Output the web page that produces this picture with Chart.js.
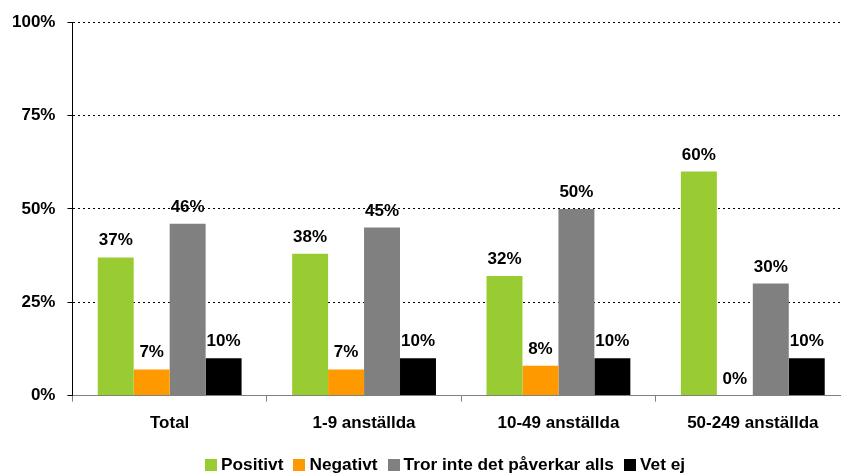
<!DOCTYPE html>
<html><head><meta charset="utf-8">
<script src="https://cdn.jsdelivr.net/npm/chart.js@4/dist/chart.umd.min.js"></script>
<style>
html,body{margin:0;padding:0;background:#fff;overflow:hidden;width:841px;height:475px;}
#wrap{position:absolute;left:0;top:0;width:850px;height:475px;}
#legend{position:absolute;top:454px;left:205px;font:bold 17.3px "Liberation Sans",Arial,sans-serif;color:#000;white-space:nowrap;display:flex;align-items:center;}
#legend span.sw{display:inline-block;width:12px;height:12px;margin-right:4px;}
#legend span.it{display:inline-flex;align-items:center;margin-right:10px;}
</style></head>
<body>
<div id="wrap"><canvas id="c" width="850" height="475"></canvas></div>
<div id="legend"></div>
<script>
const categories = ["Total", "1-9 anställda", "10-49 anställda", "50-249 anställda"];
const seriesNames = ["Positivt", "Negativt", "Tror inte det påverkar alls", "Vet ej"];
const positivt = [37, 38, 32, 60];
const negativt = [7, 7, 8, 0];
const trorInte = [46, 45, 50, 30];
const vetEj = [10, 10, 10, 10];
const yTicks = [0, 25, 50, 75, 100];
const colors = ["#99CC33", "#FF9900", "#808080", "#000000"];

const FONT = {family: '"Liberation Sans", Arial, sans-serif', size: 17, weight: 'bold'};

const valueLabels = {
  id: 'valueLabels',
  afterDatasetsDraw(chart) {
    const ctx = chart.ctx;
    ctx.save();
    ctx.font = 'bold 17px "Liberation Sans", Arial, sans-serif';
    ctx.fillStyle = '#000';
    ctx.textAlign = 'center';
    ctx.textBaseline = 'alphabetic';
    chart.data.datasets.forEach((ds, i) => {
      chart.getDatasetMeta(i).data.forEach((bar, j) => {
        ctx.fillText(Math.round(ds.data[j]) + '%', bar.x, bar.y - 12);
      });
    });
    ctx.restore();
  }
};

const allSeries = [positivt, negativt, trorInte, vetEj];
new Chart(document.getElementById('c'), {
  type: 'bar',
  data: {
    labels: categories,
    datasets: allSeries.map((d, i) => ({
      label: seriesNames[i], data: d, backgroundColor: colors[i],
      borderWidth: 0, categoryPercentage: 0.74, barPercentage: 1.0
    }))
  },
  options: {
    responsive: false, animation: false,
    layout: {padding: {left: 0, top: 22, right: 0, bottom: 29}},
    plugins: {legend: {display: false}, tooltip: {enabled: false}},
    scales: {
      x: {
        grid: {display: true, drawOnChartArea: false, offset: true, color: '#808080', tickLength: 6, lineWidth: 1},
        border: {display: true, color: '#808080', width: 1},
        ticks: {color: '#000', font: FONT, padding: 12}
      },
      y: {
        min: 0, max: 100,
        afterBuildTicks(scale) { scale.ticks = yTicks.map(v => ({value: v})); },
        grid: {color: '#000', lineWidth: 1, tickLength: 5, tickBorderDash: [], tickColor: '#000'},
        border: {display: true, color: '#000', width: 1, dash: [2, 3]},
        ticks: {color: '#000', font: FONT, padding: 12, callback: v => v + '%'}
      }
    }
  },
  plugins: [valueLabels]
});

const lg = document.getElementById('legend');
seriesNames.forEach((n, i) => {
  const it = document.createElement('span'); it.className = 'it';
  const sw = document.createElement('span'); sw.className = 'sw'; sw.style.background = colors[i];
  it.appendChild(sw); it.appendChild(document.createTextNode(n));
  lg.appendChild(it);
});
</script>
</body></html>
